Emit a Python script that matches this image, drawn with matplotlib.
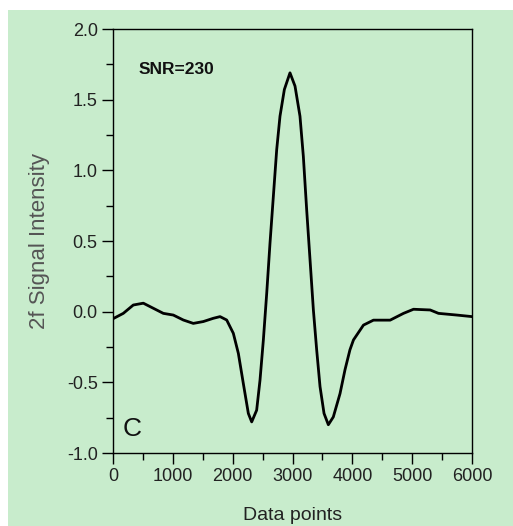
import matplotlib
matplotlib.use("Agg")
import matplotlib.pyplot as plt
from matplotlib.patches import Rectangle
from matplotlib.ticker import MultipleLocator

# Data
data_points = [0, 172, 339, 507, 674, 841, 1008, 1175, 1342, 1509, 1676, 1789, 1900,
               2011, 2095, 2178, 2262, 2318, 2401, 2457, 2513, 2569, 2624, 2680, 2736,
               2791, 2864, 2958, 3042, 3125, 3181, 3237, 3293, 3349, 3404, 3460, 3527,
               3599, 3682, 3794, 3878, 3960, 4019, 4186, 4353, 4632, 4855, 5022, 5301,
               5440, 5747, 6000]
signal = [-0.05, -0.012, 0.047, 0.06, 0.024, -0.012, -0.024, -0.059, -0.083, -0.07,
          -0.047, -0.035, -0.059, -0.153, -0.295, -0.508, -0.72, -0.78, -0.697, -0.484,
          -0.20, 0.13, 0.485, 0.816, 1.147, 1.383, 1.572, 1.69, 1.596, 1.383, 1.10, 0.72,
          0.367, 0.012, -0.27, -0.53, -0.72, -0.80, -0.745, -0.58, -0.41, -0.27, -0.20,
          -0.095, -0.06, -0.06, -0.012, 0.017, 0.012, -0.012, -0.024, -0.035]

x_ticks = [0, 1000, 2000, 3000, 4000, 5000, 6000]
y_ticks = [-1.0, -0.5, 0.0, 0.5, 1.0, 1.5, 2.0]
x_label = "Data points"
y_label = "2f Signal Intensity"
snr_text = "SNR=230"
panel_text = "C"

GREEN = "#C8ECCC"
FONT = ["Liberation Sans Narrow", "Liberation Sans", "DejaVu Sans"]

W, H = 513, 526
fig = plt.figure(figsize=(W / 100, H / 100), dpi=100, facecolor="white")
bg = Rectangle((8 / W, 0), 1 - 8 / W, 1 - 10 / H, transform=fig.transFigure,
               facecolor=GREEN, edgecolor="none", zorder=-10)
fig.add_artist(bg)

left, right, top, bottom = 113, 472, 29, 453
ax = fig.add_axes([left / W, 1 - bottom / H, (right - left) / W, (bottom - top) / H])
ax.set_zorder(1)
ax.set_facecolor(GREEN)

ax.plot(data_points, signal, color="black", lw=2.0, solid_joinstyle="round")

ax.set_xlim(0, 6000)
ax.set_ylim(-1.0, 2.0)
ax.set_xticks(x_ticks)
ax.set_yticks(y_ticks)
ax.set_xticklabels([str(v) for v in x_ticks])
ax.set_yticklabels([f"{v:.1f}" for v in y_ticks])
ax.xaxis.set_minor_locator(MultipleLocator(500))
ax.yaxis.set_minor_locator(MultipleLocator(0.25))
ax.tick_params(which="major", direction="out", length=8, width=1.0, color="black",
               labelsize=13, labelcolor="#222222", pad=3)
ax.tick_params(which="minor", direction="out", length=5, width=1.0, color="black")
ax.tick_params(top=False, right=False, which="both")
for lab in ax.get_xticklabels() + ax.get_yticklabels():
    lab.set_family(FONT)
for sp in ax.spines.values():
    sp.set_linewidth(1.0)
    sp.set_color("black")

ax.set_xlabel(x_label, fontsize=14, family=FONT, color="#222222", labelpad=16)
ax.set_ylabel(y_label, fontsize=16, family=FONT, color="#555555", labelpad=12)

ax.text(0.07, 0.905, snr_text, transform=ax.transAxes, fontsize=12.5, fontweight="bold",
        family=FONT, color="#111111", va="center", ha="left")
ax.text(0.028, 0.057, panel_text, transform=ax.transAxes, fontsize=19,
        family=FONT, color="#111111", va="center", ha="left")

fig.savefig("out.png", dpi=100, facecolor="white")
